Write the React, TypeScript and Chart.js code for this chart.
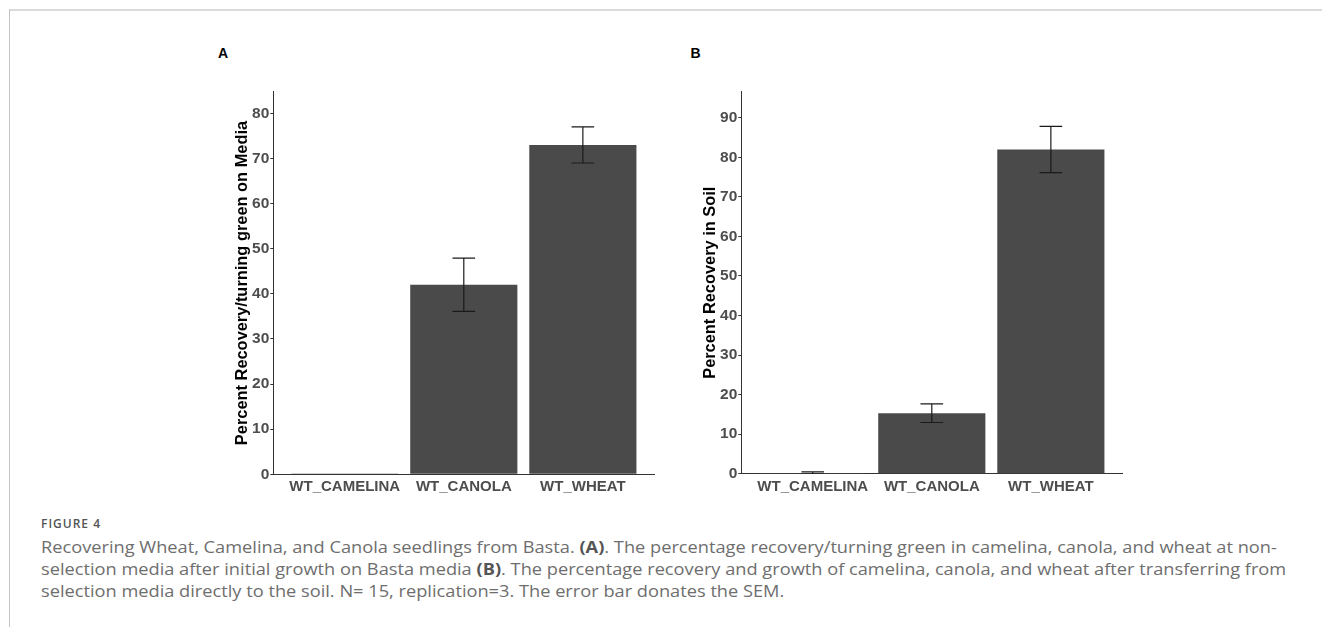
import React, { useEffect, useLayoutEffect, useRef } from "react";
import { Chart, registerables } from "chart.js";

Chart.register(...registerables);

// ---- data ----
const categories = ["WT_CAMELINA", "WT_CANOLA", "WT_WHEAT"];
const mediaRecovery = [0.15, 42, 73];
const mediaSem = [0, 5.9, 4];
const soilRecovery = [0.15, 15.3, 82];
const soilSem = [0.3, 2.35, 5.85];
const mediaTicks = [0, 10, 20, 30, 40, 50, 60, 70, 80];
const soilTicks = [0, 10, 20, 30, 40, 50, 60, 70, 80, 90];
const mediaYMax = 84.8;
const soilYMax = 96.6;
const mediaTitle = "Percent Recovery/turning green on Media";
const soilTitle = "Percent Recovery in Soil";

const AXIS_FONT = "'Liberation Sans', Arial, Helvetica, sans-serif";
const CAP_HALF = 0.095;

const errorBarPlugin = {
  id: "errorBars",
  afterDatasetsDraw(chart: any) {
    const { ctx, chartArea, scales } = chart;
    const x = scales.x;
    const y = scales.y;
    const ds = chart.data.datasets[0];
    const errs: number[] = ds.errors || [];
    ctx.save();
    ctx.beginPath();
    ctx.rect(chartArea.left, chartArea.top, chartArea.right - chartArea.left, chartArea.bottom - chartArea.top);
    ctx.clip();
    ctx.strokeStyle = "#1a1a1a";
    ctx.lineWidth = 1.2;
    ds.data.forEach((p: any, i: number) => {
      const e = errs[i];
      if (!e) return;
      const cx = x.getPixelForValue(p.x);
      const hw = x.getPixelForValue(p.x + CAP_HALF) - cx;
      const yt = y.getPixelForValue(p.y + e);
      const yb = y.getPixelForValue(p.y - e);
      ctx.beginPath();
      ctx.moveTo(cx, yt);
      ctx.lineTo(cx, yb);
      ctx.moveTo(cx - hw, yt);
      ctx.lineTo(cx + hw, yt);
      ctx.moveTo(cx - hw, yb);
      ctx.lineTo(cx + hw, yb);
      ctx.stroke();
    });
    ctx.restore();
  },
};

type PanelProps = {
  left: number;
  top: number;
  width: number;
  height: number;
  values: number[];
  errors: number[];
  ticks: number[];
  yMax: number;
  title: string;
  yAxisWidth: number;
  xAxisHeight: number;
  padTop: number;
  padRight: number;
  titlePad: number;
};

function Panel(props: PanelProps) {
  const ref = useRef<HTMLCanvasElement | null>(null);
  useEffect(() => {
    if (!ref.current) return;
    const chart = new Chart(ref.current, {
      type: "bar",
      data: {
        datasets: [
          {
            data: props.values.map((v, i) => ({ x: i + 1, y: v })),
            errors: props.errors,
            backgroundColor: "#4a4a4a",
            borderWidth: 0,
            barPercentage: 0.9,
            categoryPercentage: 1,
          } as any,
        ],
      },
      options: {
        responsive: false,
        maintainAspectRatio: false,
        animation: false,
        layout: { padding: { left: 0, top: props.padTop, right: props.padRight, bottom: 0 } },
        plugins: { legend: { display: false }, tooltip: { enabled: false } },
        scales: {
          x: {
            type: "linear",
            offset: false,
            min: 0.4,
            max: 3.6,
            afterBuildTicks: (s: any) => {
              s.ticks = categories.map((_, i) => ({ value: i + 1 }));
            },
            afterFit: (s: any) => {
              s.height = props.xAxisHeight;
            },
            ticks: {
              callback: (v: any) => categories[Number(v) - 1] ?? "",
              font: { family: AXIS_FONT, size: 15, weight: "bold" },
              color: "#4d4d4d",
              padding: 4,
              autoSkip: false,
              maxRotation: 0,
            },
            grid: { display: false, drawTicks: false, offset: false },
            border: { display: true, color: "#333333", width: 1 },
          },
          y: {
            type: "linear",
            min: 0,
            max: props.yMax,
            afterBuildTicks: (s: any) => {
              s.ticks = props.ticks.map((v) => ({ value: v }));
            },
            afterFit: (s: any) => {
              s.width = props.yAxisWidth;
            },
            ticks: {
              font: { family: AXIS_FONT, size: 15.5, weight: "bold" },
              color: "#4d4d4d",
              padding: 1,
            },
            grid: { drawOnChartArea: false, drawTicks: true, tickLength: 3, color: "#333333" },
            border: { display: true, color: "#333333", width: 1 },
            title: {
              display: true,
              text: props.title,
              font: { family: AXIS_FONT, size: 16.4, weight: "bold" },
              color: "#000000",
              padding: { top: props.titlePad, bottom: 0 },
            },
          },
        },
      } as any,
      plugins: [errorBarPlugin],
    });
    return () => chart.destroy();
  }, []);
  return (
    <canvas
      ref={ref}
      width={props.width}
      height={props.height}
      style={{ position: "absolute", left: props.left, top: props.top, width: props.width, height: props.height }}
    />
  );
}

const captionLines = [
  ["Recovering Wheat, Camelina, and Canola seedlings from Basta. ", "(A)", ". The percentage recovery/turning green in camelina, canola, and wheat at non-"],
  ["selection media after initial growth on Basta media ", "(B)", ". The percentage recovery and growth of camelina, canola, and wheat after transferring from"],
  ["selection media directly to the soil. N= 15, replication=3. The error bar donates the SEM.", "", ""],
];
const captionTargets = [1242, 1239];

export default function App() {
  const lineRefs = useRef<(HTMLDivElement | null)[]>([]);
  useLayoutEffect(() => {
    const els = lineRefs.current;
    let ks: number[] = [];
    captionTargets.forEach((t, i) => {
      const el = els[i];
      if (el) {
        const w = el.getBoundingClientRect().width;
        if (w > 0) ks.push(t / w);
      }
    });
    const k = ks.length ? ks.reduce((a, b) => a + b, 0) / ks.length : 1;
    els.forEach((el) => {
      if (el) el.style.transform = `scaleX(${k})`;
    });
  }, []);

  const capFont = "'Open Sans', 'Noto Sans', sans-serif";
  return (
    <div
      style={{
        position: "absolute",
        left: 0,
        top: 0,
        width: 1322,
        height: 627,
        background: "#ffffff",
        overflow: "hidden",
      }}
    >
      <div style={{ position: "absolute", left: 9, top: 9, right: 0, height: 2, background: "#dadada" }} />
      <div style={{ position: "absolute", left: 9, top: 9, width: 1, bottom: 0, background: "#c4c4c4" }} />

      <div style={{ position: "absolute", left: 218, top: 46, fontFamily: AXIS_FONT, fontWeight: 700, fontSize: 14, lineHeight: "14px", color: "#000" }}>A</div>
      <div style={{ position: "absolute", left: 690.5, top: 46, fontFamily: AXIS_FONT, fontWeight: 700, fontSize: 14, lineHeight: "14px", color: "#000" }}>B</div>

      <Panel
        left={200}
        top={30}
        width={480}
        height={470}
        values={mediaRecovery}
        errors={mediaSem}
        ticks={mediaTicks}
        yMax={mediaYMax}
        title={mediaTitle}
        yAxisWidth={73.3}
        xAxisHeight={25.7}
        padTop={61.7}
        padRight={25.7}
        titlePad={32.9}
      />
      <Panel
        left={680}
        top={30}
        width={460}
        height={470}
        values={soilRecovery}
        errors={soilSem}
        ticks={soilTicks}
        yMax={soilYMax}
        title={soilTitle}
        yAxisWidth={61.3}
        xAxisHeight={26.3}
        padTop={61.7}
        padRight={17.7}
        titlePad={20.9}
      />

      <div
        style={{
          position: "absolute",
          left: 41,
          top: 518.3,
          fontFamily: capFont,
          fontWeight: 600,
          fontSize: 12,
          lineHeight: "12px",
          letterSpacing: "1px",
          color: "#555555",
          whiteSpace: "nowrap",
        }}
      >
        FIGURE 4
      </div>
      <div style={{ position: "absolute", left: 41, top: 536, fontFamily: capFont, fontSize: 15.5, lineHeight: "22px", color: "#6e6e6e" }}>
        {captionLines.map((parts, i) => (
          <div key={i} style={{ height: 22 }}>
            <div
              ref={(el) => {
                lineRefs.current[i] = el;
              }}
              style={{ display: "inline-block", whiteSpace: "nowrap", transformOrigin: "0 0" }}
            >
              {parts[0]}
              {parts[1] ? <b style={{ fontWeight: 700, color: "#555555" }}>{parts[1]}</b> : null}
              {parts[2]}
            </div>
          </div>
        ))}
      </div>
    </div>
  );
}
